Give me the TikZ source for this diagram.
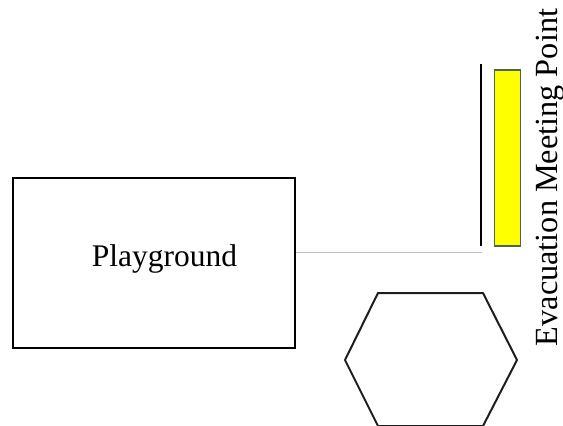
\documentclass[tikz,border=0pt]{standalone}
\usepackage{fontspec}
\setmainfont{Liberation Serif}
\definecolor{barfill}{RGB}{255,255,0}
\definecolor{barline}{RGB}{80,100,85}
\definecolor{linkgray}{RGB}{190,190,190}
\begin{document}
\begin{tikzpicture}[x=1pt,y=-1pt,
  areabox/.style={draw=black,line width=1.5pt,minimum width=282pt,minimum height=170pt,inner sep=0pt},
  bigtext/.style={font=\fontsize{31.5}{36}\selectfont,inner sep=0pt},
  evactext/.style={font=\fontsize{32.3}{36}\selectfont,inner sep=0pt},
  link/.style={draw=linkgray,line width=1.2pt},
  meetbar/.style={draw=barline,fill=barfill,line width=1.2pt,minimum width=26pt,minimum height=176pt,inner sep=0pt},
  wall/.style={draw=black,line width=1.4pt},
  hexline/.style={draw={rgb,255:red,30;green,30;blue,30},line width=2pt,line join=miter}]
\useasboundingbox (0,0) rectangle (563,426);
% playground
\node[areabox] (pg) at (154,263) {};
\node[bigtext,anchor=base] (pgt) at (164.5,266) {Playground};
% wall and connector
\coordinate (wtop) at (481,64);
\coordinate (wbot) at (481,246);
\coordinate (cend) at (482,252.5);
\draw[wall] (wtop) -- (wbot);
\draw[link] (pg.east |- cend) -- (cend);
% evacuation meeting point bar
\node[meetbar] (bar) at (507.5,158) {};
\node[evactext,anchor=base,rotate=90] (evac) at (557,177.5) {Evacuation Meeting Point};
% hexagon
\coordinate (h1) at (378,293);
\coordinate (h2) at (483,293);
\coordinate (h3) at (517,360);
\coordinate (h4) at (483,426);
\coordinate (h5) at (378,426);
\coordinate (h6) at (345,360);
\draw[hexline] (h1) -- (h2) -- (h3) -- (h4) -- (h5) -- (h6) -- cycle;
\end{tikzpicture}
\end{document}
